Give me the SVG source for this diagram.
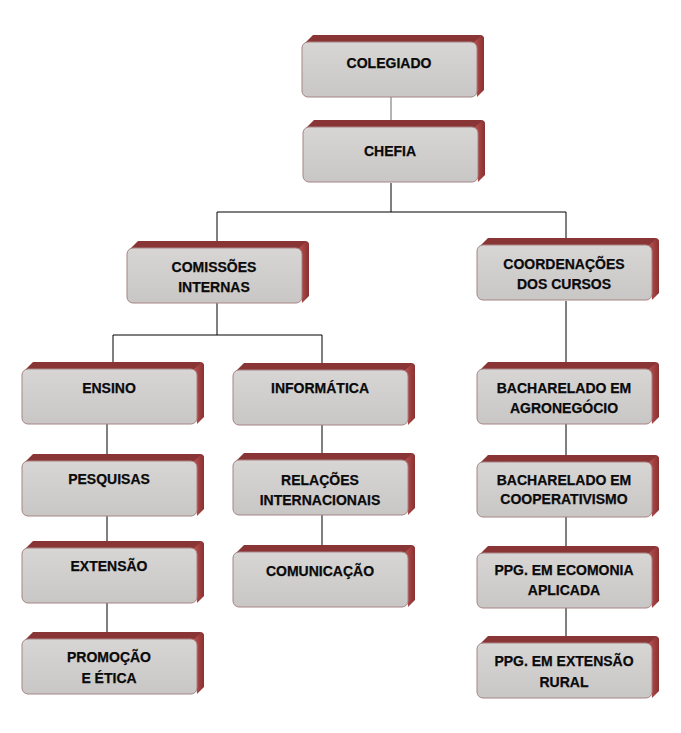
<svg xmlns="http://www.w3.org/2000/svg" xmlns:xlink="http://www.w3.org/1999/xlink" width="681" height="733" viewBox="0 0 681 733">
<style>
.t{font-family:"Liberation Sans",Arial,sans-serif;font-weight:bold;font-size:14px;fill:#0a0a0a;stroke:#0a0a0a;stroke-width:0.25px;text-anchor:middle}
.c{stroke:#000;stroke-width:1;fill:none}
</style>
<defs>
<linearGradient id="gf" x1="0" y1="0" x2="0" y2="1">
<stop offset="0" stop-color="#d8d5d5"/><stop offset="1" stop-color="#c9c6c6"/>
</linearGradient>
<linearGradient id="gs" x1="0" y1="0" x2="1" y2="0">
<stop offset="0" stop-color="#b85050"/><stop offset="1" stop-color="#8a3030"/>
</linearGradient>
<g id="box">
<path d="M3,1 L11,-7 L178,-7 Q182,-7 182,-3 L175,1 Z" fill="#8a3535"/>
<path d="M172,0 L179,-6 Q182,-6 182,-2 L182,48 L175,55 Z" fill="url(#gs)"/>
<rect x="0" y="0" width="175" height="55" rx="6" fill="url(#gf)" stroke="#a68484" stroke-width="1"/>
</g>
</defs>
<rect width="681" height="733" fill="#fff"/>
<g id="connectors">
<path class="c" style="stroke:#6a6a6a" d="M391,97 V121"/>
<path class="c" d="M391,183 V212 M217,212 H566 M217,212 V241 M566,212 V238"/>
<path class="c" d="M217,303 V335 M113,335 H322 M113,335 V362 M322,335 V363"/>
<path class="c" d="M107,424 V454 M107,516 V541 M107,603 V632"/>
<path class="c" d="M322,425 V453 M322,515 V545"/>
<path class="c" d="M566,301 V362 M566,424 V455 M566,517 V546 M566,608 V636"/>
</g>
<g id="colegiado"><use xlink:href="#box" x="302" y="42"/><text class="t" x="389" y="68">COLEGIADO</text></g>
<g id="chefia"><use xlink:href="#box" x="303" y="127"/><text class="t" x="390" y="156">CHEFIA</text></g>
<g id="comissoes"><use xlink:href="#box" x="127" y="248"/><text class="t" x="214" y="272">COMISSÕES</text><text class="t" x="214" y="292">INTERNAS</text></g>
<g id="coordenacoes"><use xlink:href="#box" x="477" y="245"/><text class="t" x="564" y="269">COORDENAÇÕES</text><text class="t" x="564" y="289">DOS CURSOS</text></g>
<g id="ensino"><use xlink:href="#box" x="22" y="369"/><text class="t" x="109" y="393">ENSINO</text></g>
<g id="informatica"><use xlink:href="#box" x="233" y="370"/><text class="t" x="320" y="393">INFORMÁTICA</text></g>
<g id="bach-agro"><use xlink:href="#box" x="477" y="369"/><text class="t" x="564" y="393">BACHARELADO EM</text><text class="t" x="564" y="413">AGRONEGÓCIO</text></g>
<g id="pesquisas"><use xlink:href="#box" x="22" y="461"/><text class="t" x="109" y="484">PESQUISAS</text></g>
<g id="relacoes"><use xlink:href="#box" x="233" y="460"/><text class="t" x="320" y="485">RELAÇÕES</text><text class="t" x="320" y="505">INTERNACIONAIS</text></g>
<g id="bach-coop"><use xlink:href="#box" x="477" y="462"/><text class="t" x="564" y="485">BACHARELADO EM</text><text class="t" x="564" y="504">COOPERATIVISMO</text></g>
<g id="extensao"><use xlink:href="#box" x="22" y="548"/><text class="t" x="109" y="571">EXTENSÃO</text></g>
<g id="comunicacao"><use xlink:href="#box" x="233" y="552"/><text class="t" x="320" y="576">COMUNICAÇÃO</text></g>
<g id="ppg-economia"><use xlink:href="#box" x="477" y="553"/><text class="t" x="564" y="575">PPG. EM ECOMONIA</text><text class="t" x="564" y="595">APLICADA</text></g>
<g id="promocao"><use xlink:href="#box" x="22" y="639"/><text class="t" x="109" y="662">PROMOÇÃO</text><text class="t" x="109" y="683">E ÉTICA</text></g>
<g id="ppg-extensao"><use xlink:href="#box" x="477" y="643"/><text class="t" x="564" y="666">PPG. EM EXTENSÃO</text><text class="t" x="564" y="687">RURAL</text></g>
</svg>
